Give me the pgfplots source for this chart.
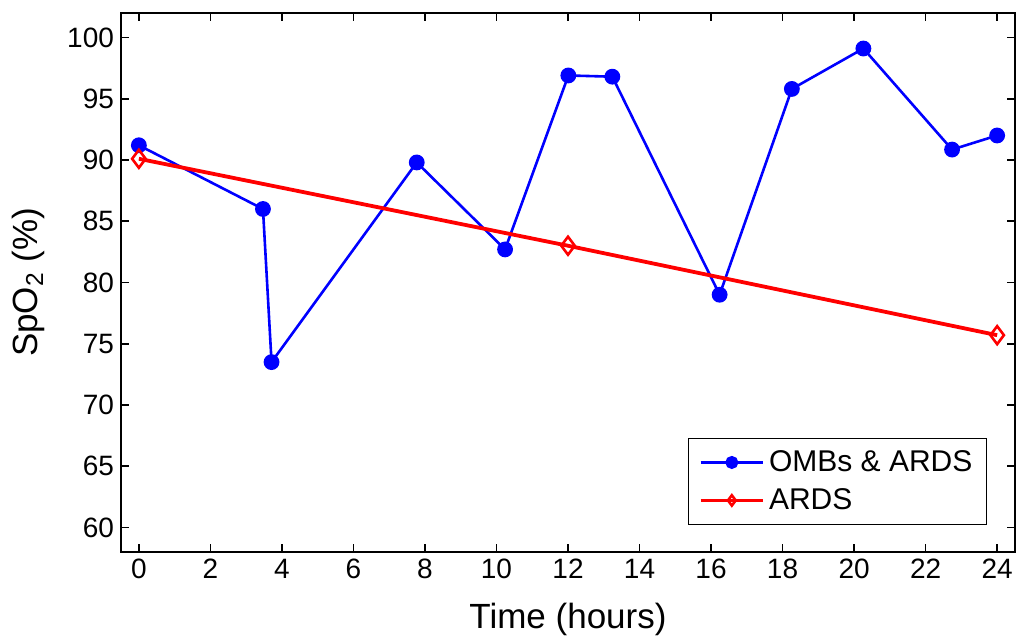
\documentclass[border=0pt]{standalone}
\usepackage{fontspec}
\setmainfont{Liberation Sans}
\usepackage{pgfplots}
\pgfplotsset{compat=1.18}

\pgfplotstableread{
t spo2
0 91.2
3.47 86.0
3.71 73.5
7.77 89.8
10.24 82.7
12.01 96.9
13.24 96.8
16.24 79.0
18.26 95.8
20.26 99.1
22.74 90.85
24.0 92.0
}\omb

\pgfplotstableread{
t spo2
0 90.1
12 83.0
24 75.7
}\ards

\begin{document}
\begin{tikzpicture}
\begin{axis}[
    name=ax,
    scale only axis,
    width=447pt, height=269.5pt,
    xmin=-0.5, xmax=24.5,
    ymin=58, ymax=102,
    xtick={0,2,...,24},
    ytick={60,65,...,100},
    tick align=inside,
    major tick length=4pt,
    axis line style={line width=0.8pt},
    every tick/.style={black, line width=0.8pt},
    /pgf/number format/assume math mode=true,
    ticklabel style={font=\fontsize{14}{16}\selectfont},
    label style={font=\fontsize{17.5}{20}\selectfont},
    xlabel={Time (hours)},
    ylabel={SpO\textsubscript{2} (\%)},
    xlabel style={at={(axis description cs:0.5,-0.126)}, anchor=center},
    ylabel style={at={(axis description cs:-0.103,0.5)}, anchor=center},
    legend cell align=left,
    legend style={at={(axis description cs:1,0)}, anchor=south east,
        xshift=-14pt, yshift=13.5pt,
        font=\fontsize{15}{18}\selectfont,
        draw=black, line width=0.6pt,
        inner xsep=5pt, inner ysep=4pt, row sep=3pt,
        nodes={inner sep=2pt}},
    legend image code/.code={%
        \draw[mark repeat=2, mark phase=2, mark size=2.6pt, #1]
        plot coordinates {(0cm,0cm) (0.55cm,0cm) (1.1cm,0cm)};},
]
\addplot[blue, line width=1.3pt, mark=*, mark size=3.3pt,
    mark options={fill=blue}] table[x=t, y=spo2] {\omb};
\addlegendentry{OMBs \& ARDS}
\addplot[red, line width=1.9pt, mark=diamond, mark size=4.5pt,
    mark options={fill=white, line width=1.3pt}] table[x=t, y=spo2] {\ards};
\addlegendentry{ARDS}
\end{axis}
\pgfresetboundingbox
\path ([shift={(-60.5pt,-46pt)}]ax.south west) rectangle ([shift={(1pt,6.5pt)}]ax.north east);
\end{tikzpicture}
\end{document}
